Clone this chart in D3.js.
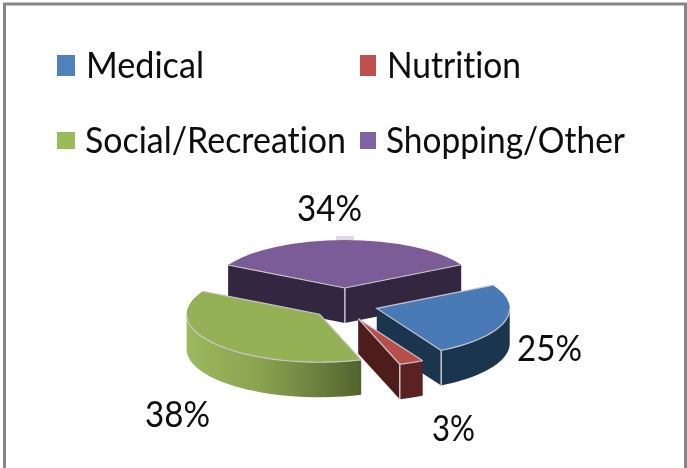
<!DOCTYPE html>
<html>
<head>
<meta charset="utf-8">
<script src="https://cdn.jsdelivr.net/npm/d3@7"></script>
<style>
    html, body { margin: 0; padding: 0; background: #fff; overflow: hidden; }
    text { font-family: Lato, "Open Sans", sans-serif; fill: #0a0a0a; font-variant-ligatures: none; }
</style>
</head>
<body>
<script>
var categories = ["Medical", "Nutrition", "Social/Recreation", "Shopping/Other"];
var values = [25, 3, 38, 34];

var topColors = ["#4a7ab5", "#b84e49", "#95b155", "#7b5c97"];
var swatchColors = ["#4f81bd", "#c0504d", "#9bbb59", "#8064a2"];
var wallColors = ["#1d3550", "#5a2220", "url(#greenWall)", "#312640"];
var faceColors = ["#1d3550", "#4f1f1e", "#4e5f2b", "#312640"];

// legend and label placement, [x, baseline, text width]
var legendPos = [[86, 78, 118], [387, 78, 134], [85, 153, 261], [386, 153, 239]];
var swatchPos = [[57, 55, 18, 21], [360, 55, 16, 21], [57, 132, 18, 17], [360, 132, 16, 17]];
var labelPos = [[517, 361, 65], [432, 441, 43], [145, 427, 65], [297, 221, 65]];

var width = 687, height = 468;
var cx = 345, cy = 304;
var rx = 133, ry = 48, depth = 35;
var explodeX = 33, explodeY = 16;
var rimColor = "#c9c6cc";

var svg = d3.select("body").append("svg")
    .attr("width", width)
    .attr("height", height);

var defs = svg.append("defs");
var grad = defs.append("linearGradient")
    .attr("id", "greenWall")
    .attr("gradientUnits", "userSpaceOnUse")
    .attr("x1", 187).attr("x2", 367).attr("y1", 0).attr("y2", 0);
[[0, "#9cb95d"], [0.4, "#8ba350"], [0.7, "#6d8340"], [1, "#4e5f2b"]].forEach(function(s) {
    grad.append("stop").attr("offset", s[0]).attr("stop-color", s[1]);
});
defs.append("filter")
    .attr("id", "soft")
    .append("feGaussianBlur")
    .attr("stdDeviation", 0.5);

svg.append("rect")
    .attr("x", 4.5).attr("y", 4)
    .attr("width", 681).attr("height", height + 10)
    .attr("fill", "#fff")
    .attr("stroke", "#868686")
    .attr("stroke-width", 3);

var chart = svg.append("g").attr("filter", "url(#soft)");

var startAngle = 61 * Math.PI / 180;
var pie = d3.pie().sort(null)
    .startAngle(startAngle)
    .endAngle(startAngle + 2 * Math.PI);

var slices = pie(values).map(function(d, i) {
    var mid = (d.startAngle + d.endAngle) / 2;
    return {
        index: i,
        startAngle: d.startAngle,
        endAngle: d.endAngle,
        ox: cx + explodeX * Math.sin(mid),
        oy: cy - explodeY * Math.cos(mid)
    };
});

function rimPoint(s, a) {
    return [s.ox + rx * Math.sin(a), s.oy - ry * Math.cos(a)];
}

// front part of the rim, the only part that has a wall under it
function frontRim(s) {
    var a0 = Math.max(s.startAngle, Math.PI / 2);
    var a1 = Math.min(s.endAngle, 3 * Math.PI / 2);
    if (a1 <= a0) return null;
    return d3.range(0, 41).map(function(k) {
        return rimPoint(s, a0 + (a1 - a0) * k / 40);
    });
}

function facePath(s, a) {
    var p = rimPoint(s, a);
    return d3.line()([[s.ox, s.oy], p, [p[0], p[1] + depth], [s.ox, s.oy + depth]]) + "Z";
}

var arc = d3.arc().innerRadius(0).outerRadius(1);
var drawOrder = [3, 0, 2, 1];

function ridge(g, p) {
    g.append("line")
        .attr("x1", p[0]).attr("y1", p[1])
        .attr("x2", p[0]).attr("y2", p[1] + depth)
        .attr("stroke", rimColor).attr("stroke-width", 1.5);
}

drawOrder.forEach(function(i) {
    var s = slices[i];
    var g = chart.append("g").attr("class", "slice");
    var rim = frontRim(s);

    // a radial face shows only when its outward side points down the screen
    var faces = [];
    if (Math.sin(s.startAngle) < 0) faces.push(s.startAngle);
    if (Math.sin(s.endAngle) > 0) faces.push(s.endAngle);

    faces.forEach(function(a) {
        g.append("path").attr("d", facePath(s, a)).attr("fill", faceColors[i]);
    });

    if (rim) {
        var bottom = rim.map(function(p) { return [p[0], p[1] + depth]; }).reverse();
        g.append("path")
            .attr("d", d3.line()(rim.concat(bottom)) + "Z")
            .attr("fill", wallColors[i]);
    }

    if (faces.length === 2) ridge(g, [s.ox, s.oy]);
    if (rim) {
        faces.forEach(function(a) { ridge(g, rimPoint(s, a)); });
    }

    g.append("path")
        .attr("d", arc({startAngle: s.startAngle, endAngle: s.endAngle}))
        .attr("transform", "translate(" + s.ox + "," + s.oy + ") scale(" + rx + "," + ry + ")")
        .attr("fill", topColors[i]);

    // light bevel on the radii and the front rim, none along the back
    var radii = [rimPoint(s, s.startAngle), [s.ox, s.oy], rimPoint(s, s.endAngle)];
    [radii, rim].forEach(function(pts) {
        if (!pts) return;
        g.append("path")
            .attr("d", d3.line()(pts))
            .attr("fill", "none")
            .attr("stroke", rimColor)
            .attr("stroke-width", 1.2);
    });
});

// small pale tick above the purple slice
chart.append("rect")
    .attr("x", 336).attr("y", 236)
    .attr("width", 18).attr("height", 4)
    .attr("fill", "#dcd6e6");

chart.selectAll(".swatch")
    .data(categories)
    .enter()
    .append("rect")
    .attr("class", "swatch")
    .attr("x", function(d, i) { return swatchPos[i][0]; })
    .attr("y", function(d, i) { return swatchPos[i][1]; })
    .attr("width", function(d, i) { return swatchPos[i][2]; })
    .attr("height", function(d, i) { return swatchPos[i][3]; })
    .attr("fill", function(d, i) { return swatchColors[i]; });

chart.selectAll(".legend-text")
    .data(categories)
    .enter()
    .append("text")
    .attr("class", "legend-text")
    .attr("x", function(d, i) { return legendPos[i][0]; })
    .attr("y", function(d, i) { return legendPos[i][1]; })
    .attr("font-size", 37)
    .attr("textLength", function(d, i) { return legendPos[i][2]; })
    .attr("lengthAdjust", "spacingAndGlyphs")
    .text(function(d) { return d; });

chart.selectAll(".pct")
    .data(values)
    .enter()
    .append("text")
    .attr("class", "pct")
    .attr("x", function(d, i) { return labelPos[i][0]; })
    .attr("y", function(d, i) { return labelPos[i][1]; })
    .attr("font-size", 36)
    .attr("textLength", function(d, i) { return labelPos[i][2]; })
    .attr("lengthAdjust", "spacingAndGlyphs")
    .text(function(d) { return d + "%"; });
</script>
</body>
</html>
